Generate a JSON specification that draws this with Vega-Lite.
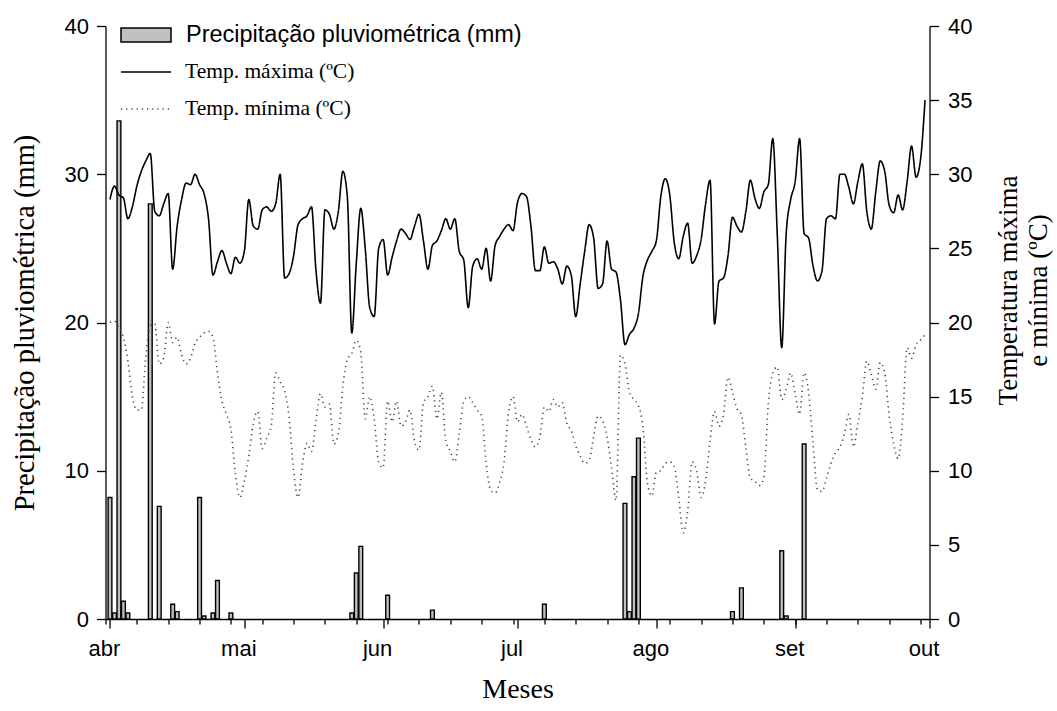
{
  "$schema": "https://vega.github.io/schema/vega-lite/v6.json",
  "width": 824,
  "height": 593,
  "autosize": {"type": "none"},
  "padding": {"left": 105.5, "top": 26, "right": 127.5, "bottom": 92},
  "background": "white",
  "config": {
    "view": {"stroke": null},
    "axis": {"grid": false, "domainColor": "black", "tickColor": "black", "labelColor": "black", "titleColor": "black", "domainWidth": 1.3, "tickWidth": 1.3},
    "legend": {"labelColor": "black"}
  },
  "datasets": {
    "chuva": [
      {"d": 0, "prec": 8.2}, {"d": 1, "prec": 0.4}, {"d": 2, "prec": 33.6}, {"d": 3, "prec": 1.2}, {"d": 4, "prec": 0.4},
      {"d": 9, "prec": 28.0}, {"d": 11, "prec": 7.6}, {"d": 14, "prec": 1.0}, {"d": 15, "prec": 0.5}, {"d": 20, "prec": 8.2},
      {"d": 21, "prec": 0.2}, {"d": 23, "prec": 0.4}, {"d": 24, "prec": 2.6}, {"d": 27, "prec": 0.4}, {"d": 54, "prec": 0.4},
      {"d": 55, "prec": 3.1}, {"d": 56, "prec": 4.9}, {"d": 62, "prec": 1.6}, {"d": 72, "prec": 0.6}, {"d": 97, "prec": 1.0},
      {"d": 115, "prec": 7.8}, {"d": 116, "prec": 0.5}, {"d": 117, "prec": 9.6}, {"d": 118, "prec": 12.2}, {"d": 139, "prec": 0.5},
      {"d": 141, "prec": 2.1}, {"d": 150, "prec": 4.6}, {"d": 151, "prec": 0.2}, {"d": 155, "prec": 11.8}
    ],
    "clima": [
      {"d":0,"tmax":28.3,"tmin":20.0},{"d":1,"tmax":29.2,"tmin":20.1},{"d":2,"tmax":28.6,"tmin":19.6},{"d":3,"tmax":28.4,"tmin":19.0},
      {"d":4,"tmax":27.0,"tmin":17.4},{"d":5,"tmax":27.8,"tmin":15.0},{"d":6,"tmax":29.2,"tmin":14.1},{"d":7,"tmax":30.2,"tmin":14.1},
      {"d":8,"tmax":30.9,"tmin":17.7},{"d":9,"tmax":31.4,"tmin":19.8},{"d":10,"tmax":27.5,"tmin":19.9},{"d":11,"tmax":27.2,"tmin":17.2},
      {"d":12,"tmax":28.0,"tmin":17.6},{"d":13,"tmax":28.7,"tmin":20.0},{"d":14,"tmax":23.6,"tmin":18.65},{"d":15,"tmax":26.5,"tmin":19.0},
      {"d":16,"tmax":28.3,"tmin":17.8},{"d":17,"tmax":29.4,"tmin":17.2},{"d":18,"tmax":29.3,"tmin":17.6},{"d":19,"tmax":30.0,"tmin":18.6},
      {"d":20,"tmax":29.3,"tmin":19.0},{"d":21,"tmax":28.7,"tmin":19.3},{"d":22,"tmax":27.0,"tmin":19.4},{"d":23,"tmax":23.2,"tmin":19.0},
      {"d":24,"tmax":24.1,"tmin":16.6},{"d":25,"tmax":24.85,"tmin":14.7},{"d":26,"tmax":24.0,"tmin":13.8},{"d":27,"tmax":23.3,"tmin":12.8},
      {"d":28,"tmax":24.4,"tmin":9.8},{"d":29,"tmax":24.0,"tmin":8.2},{"d":30,"tmax":24.8,"tmin":9.3},{"d":31,"tmax":28.3,"tmin":11.0},
      {"d":32,"tmax":26.5,"tmin":13.2},{"d":33,"tmax":26.3,"tmin":14.0},{"d":34,"tmax":27.6,"tmin":11.5},{"d":35,"tmax":27.8,"tmin":12.2},
      {"d":36,"tmax":27.5,"tmin":13.0},{"d":37,"tmax":28.0,"tmin":16.6},{"d":38,"tmax":30.0,"tmin":16.0},{"d":39,"tmax":23.0,"tmin":15.4},
      {"d":40,"tmax":23.3,"tmin":13.6},{"d":41,"tmax":24.5,"tmin":10.0},{"d":42,"tmax":26.6,"tmin":8.2},{"d":43,"tmax":27.0,"tmin":10.5},
      {"d":44,"tmax":27.2,"tmin":11.85},{"d":45,"tmax":27.8,"tmin":11.3},{"d":46,"tmax":23.5,"tmin":13.4},{"d":47,"tmax":21.3,"tmin":15.2},
      {"d":48,"tmax":27.6,"tmin":14.3},{"d":49,"tmax":27.3,"tmin":14.5},{"d":50,"tmax":26.3,"tmin":11.8},{"d":51,"tmax":27.5,"tmin":12.5},
      {"d":52,"tmax":30.2,"tmin":15.7},{"d":53,"tmax":28.5,"tmin":17.5},{"d":54,"tmax":19.3,"tmin":17.9},{"d":55,"tmax":24.0,"tmin":18.8},
      {"d":56,"tmax":27.7,"tmin":18.0},{"d":57,"tmax":25.0,"tmin":13.5},{"d":58,"tmax":21.0,"tmin":15.0},{"d":59,"tmax":20.4,"tmin":13.5},
      {"d":60,"tmax":25.0,"tmin":10.6},{"d":61,"tmax":25.6,"tmin":10.2},{"d":62,"tmax":23.2,"tmin":14.7},{"d":63,"tmax":24.4,"tmin":13.3},
      {"d":64,"tmax":25.5,"tmin":14.7},{"d":65,"tmax":26.3,"tmin":13.0},{"d":66,"tmax":26.0,"tmin":13.3},{"d":67,"tmax":25.6,"tmin":14.1},
      {"d":68,"tmax":26.5,"tmin":12.0},{"d":69,"tmax":27.3,"tmin":11.4},{"d":70,"tmax":25.5,"tmin":14.6},{"d":71,"tmax":23.6,"tmin":15.0},
      {"d":72,"tmax":25.2,"tmin":15.7},{"d":73,"tmax":25.5,"tmin":13.5},{"d":74,"tmax":26.2,"tmin":15.3},{"d":75,"tmax":27.0,"tmin":12.0},
      {"d":76,"tmax":26.3,"tmin":11.3},{"d":77,"tmax":27.0,"tmin":10.6},{"d":78,"tmax":24.8,"tmin":12.5},{"d":79,"tmax":24.2,"tmin":14.7},
      {"d":80,"tmax":21.0,"tmin":15.0},{"d":81,"tmax":23.8,"tmin":14.6},{"d":82,"tmax":24.3,"tmin":14.1},{"d":83,"tmax":23.6,"tmin":13.7},
      {"d":84,"tmax":25.0,"tmin":10.5},{"d":85,"tmax":22.8,"tmin":8.7},{"d":86,"tmax":25.2,"tmin":8.5},{"d":87,"tmax":25.8,"tmin":9.2},
      {"d":88,"tmax":26.3,"tmin":10.6},{"d":89,"tmax":26.6,"tmin":13.9},{"d":90,"tmax":26.2,"tmin":15.0},{"d":91,"tmax":28.1,"tmin":13.3},
      {"d":92,"tmax":28.7,"tmin":13.8},{"d":93,"tmax":28.5,"tmin":13.0},{"d":94,"tmax":26.5,"tmin":12.1},{"d":95,"tmax":23.5,"tmin":11.6},
      {"d":96,"tmax":23.5,"tmin":12.3},{"d":97,"tmax":25.1,"tmin":14.3},{"d":98,"tmax":24.0,"tmin":14.0},{"d":99,"tmax":24.1,"tmin":14.8},
      {"d":100,"tmax":23.6,"tmin":14.3},{"d":101,"tmax":22.6,"tmin":14.6},{"d":102,"tmax":23.8,"tmin":13.2},{"d":103,"tmax":23.2,"tmin":12.7},
      {"d":104,"tmax":20.4,"tmin":11.7},{"d":105,"tmax":22.6,"tmin":11.0},{"d":106,"tmax":24.8,"tmin":10.5},{"d":107,"tmax":26.6,"tmin":10.7},
      {"d":108,"tmax":25.7,"tmin":12.3},{"d":109,"tmax":22.3,"tmin":13.7},{"d":110,"tmax":22.6,"tmin":13.4},{"d":111,"tmax":25.5,"tmin":12.3},
      {"d":112,"tmax":23.6,"tmin":10.2},{"d":113,"tmax":23.4,"tmin":8.0},{"d":114,"tmax":21.5,"tmin":17.8},{"d":115,"tmax":18.5,"tmin":17.2},
      {"d":116,"tmax":19.2,"tmin":15.3},{"d":117,"tmax":19.6,"tmin":14.8},{"d":118,"tmax":20.6,"tmin":14.4},{"d":119,"tmax":23.1,"tmin":13.0},
      {"d":120,"tmax":24.2,"tmin":9.2},{"d":121,"tmax":24.8,"tmin":8.3},{"d":122,"tmax":25.5,"tmin":9.9},{"d":123,"tmax":28.5,"tmin":10.0},
      {"d":124,"tmax":29.7,"tmin":10.5},{"d":125,"tmax":28.6,"tmin":10.6},{"d":126,"tmax":25.4,"tmin":10.3},{"d":127,"tmax":24.3,"tmin":8.2},
      {"d":128,"tmax":25.8,"tmin":5.8},{"d":129,"tmax":26.7,"tmin":7.3},{"d":130,"tmax":24.0,"tmin":10.6},{"d":131,"tmax":24.5,"tmin":10.0},
      {"d":132,"tmax":25.6,"tmin":8.2},{"d":133,"tmax":28.0,"tmin":9.3},{"d":134,"tmax":29.6,"tmin":12.0},{"d":135,"tmax":19.9,"tmin":14.0},
      {"d":136,"tmax":22.8,"tmin":13.0},{"d":137,"tmax":23.0,"tmin":13.8},{"d":138,"tmax":24.5,"tmin":16.3},{"d":139,"tmax":27.1,"tmin":15.3},
      {"d":140,"tmax":26.5,"tmin":14.2},{"d":141,"tmax":26.1,"tmin":13.8},{"d":142,"tmax":27.5,"tmin":11.5},{"d":143,"tmax":29.6,"tmin":9.5},
      {"d":144,"tmax":28.4,"tmin":9.3},{"d":145,"tmax":27.7,"tmin":9.0},{"d":146,"tmax":28.8,"tmin":9.5},{"d":147,"tmax":29.3,"tmin":14.5},
      {"d":148,"tmax":32.4,"tmin":16.6},{"d":149,"tmax":26.0,"tmin":17.0},{"d":150,"tmax":18.3,"tmin":14.8},{"d":151,"tmax":26.0,"tmin":15.5},
      {"d":152,"tmax":28.3,"tmin":16.6},{"d":153,"tmax":29.5,"tmin":15.2},{"d":154,"tmax":32.4,"tmin":13.8},{"d":155,"tmax":26.0,"tmin":16.6},
      {"d":156,"tmax":25.7,"tmin":15.3},{"d":157,"tmax":23.8,"tmin":11.8},{"d":158,"tmax":22.8,"tmin":8.7},{"d":159,"tmax":23.5,"tmin":8.6},
      {"d":160,"tmax":27.0,"tmin":9.5},{"d":161,"tmax":27.2,"tmin":10.5},{"d":162,"tmax":27.0,"tmin":11.2},{"d":163,"tmax":30.0,"tmin":11.6},
      {"d":164,"tmax":30.0,"tmin":12.5},{"d":165,"tmax":29.1,"tmin":13.8},{"d":166,"tmax":28.0,"tmin":11.6},{"d":167,"tmax":29.5,"tmin":13.2},
      {"d":168,"tmax":30.7,"tmin":15.0},{"d":169,"tmax":27.5,"tmin":17.4},{"d":170,"tmax":26.3,"tmin":16.5},{"d":171,"tmax":28.8,"tmin":15.5},
      {"d":172,"tmax":30.9,"tmin":17.3},{"d":173,"tmax":30.2,"tmin":16.6},{"d":174,"tmax":27.9,"tmin":13.7},{"d":175,"tmax":27.4,"tmin":11.8},
      {"d":176,"tmax":28.6,"tmin":10.8},{"d":177,"tmax":27.6,"tmin":13.5},{"d":178,"tmax":29.5,"tmin":18.3},{"d":179,"tmax":31.9,"tmin":17.6},
      {"d":180,"tmax":29.8,"tmin":18.5},{"d":181,"tmax":31.0,"tmin":18.8},{"d":182,"tmax":35.0,"tmin":19.2}
    ]
  },
  "layer": [
    {
      "data": {"name": "chuva"},
      "mark": {"type": "bar", "width": 3.8, "stroke": "black", "strokeWidth": 1.4},
      "encoding": {
        "x": {
          "field": "d", "type": "quantitative",
          "scale": {"domain": [-1, 183], "nice": false, "zero": false, "padding": 0},
          "axis": {
            "orient": "bottom", "values": [0, 30, 61, 91, 122, 153, 183],
            "labelExpr": "['abr','mai','jun','jul','ago','set','out'][indexof([0,30,61,91,122,153,183], datum.value)]",
            "tickSize": 9, "labelFont": "Liberation Sans", "labelFontSize": 22, "labelPadding": 10,
            "labelOffset": -6, "labelFlush": false, "labelOverlap": false,
            "title": "Meses", "titleFont": "Liberation Serif", "titleFontSize": 28, "titleFontWeight": "normal", "titlePadding": 16
          }
        },
        "y": {
          "field": "prec", "type": "quantitative",
          "scale": {"domain": [0, 40], "nice": false},
          "axis": {
            "orient": "left", "values": [0, 10, 20, 30, 40], "tickSize": 9,
            "labelFont": "Liberation Sans", "labelFontSize": 22, "labelPadding": 8,
            "title": "Precipitação pluviométrica (mm)", "titleFont": "Liberation Serif", "titleFontSize": 28.5,
            "titleFontWeight": "normal", "titlePadding": 25
          }
        },
        "fill": {
          "datum": "Precipitação pluviométrica (mm)", "type": "nominal",
          "scale": {"range": ["#c0c0c0"]},
          "legend": {
            "title": null, "orient": "none", "legendX": 14.5, "legendY": -17, "padding": 0,
            "symbolType": "M-1,-0.28L1,-0.28L1,0.28L-1,0.28Z", "symbolSize": 2500,
            "symbolStrokeColor": "black", "symbolStrokeWidth": 1.5, "symbolOpacity": 1,
            "labelFont": "Liberation Sans", "labelFontSize": 23.5, "labelOffset": 14, "labelLimit": 0
          }
        }
      }
    },
    {
      "data": {"name": "clima"},
      "transform": [{"fold": ["tmax", "tmin"], "as": ["serie", "temp"]}],
      "mark": {"type": "line", "interpolate": "monotone", "strokeWidth": 1.6},
      "encoding": {
        "x": {
          "field": "d", "type": "quantitative",
          "scale": {"domain": [-1, 183], "nice": false, "zero": false, "padding": 0},
          "axis": {
            "orient": "bottom", "values": [-1, 6, 13, 20, 27, 34, 41, 48, 55, 62, 69, 76, 83, 90, 97, 104, 111, 118, 125, 132, 139, 146, 153, 160, 167, 174, 181],
            "tickSize": 5, "labels": false, "domain": false, "title": null
          }
        },
        "y": {
          "field": "temp", "type": "quantitative",
          "scale": {"domain": [0, 40], "nice": false},
          "axis": {
            "orient": "right", "values": [0, 5, 10, 15, 20, 25, 30, 35, 40], "tickSize": 9,
            "labelFont": "Liberation Sans", "labelFontSize": 22, "labelPadding": 9,
            "title": ["Temperatura máxima", "e mínima (ºC)"], "titleFont": "Liberation Serif", "titleFontSize": 27,
            "titleFontWeight": "normal", "titleAngle": 270, "titleBaseline": "top", "titleLineHeight": 30,
            "titlePadding": -6, "titleY": 264
          }
        },
        "strokeDash": {
          "field": "serie", "type": "nominal",
          "scale": {"domain": ["tmax", "tmin"], "range": [[1, 0], [1.2, 4]]},
          "legend": {
            "title": null, "orient": "none", "legendX": 14.5, "legendY": 20, "padding": 0, "rowPadding": -3,
            "symbolType": "stroke", "symbolSize": 2500, "symbolStrokeWidth": 1.5,
            "labelFont": "Liberation Serif", "labelFontSize": 21.5, "labelOffset": 13, "labelLimit": 0,
            "labelExpr": "datum.value == 'tmax' ? 'Temp. máxima (ºC)' : 'Temp. mínima (ºC)'"
          }
        },
        "color": {
          "field": "serie", "type": "nominal",
          "scale": {"domain": ["tmax", "tmin"], "range": ["#000000", "#444444"]},
          "legend": {
            "title": null, "orient": "none", "legendX": 14.5, "legendY": 20, "padding": 0, "rowPadding": -3,
            "symbolType": "stroke", "symbolSize": 2500, "symbolStrokeWidth": 1.5,
            "labelFont": "Liberation Serif", "labelFontSize": 21.5, "labelOffset": 13, "labelLimit": 0,
            "labelExpr": "datum.value == 'tmax' ? 'Temp. máxima (ºC)' : 'Temp. mínima (ºC)'"
          }
        }
      }
    }
  ],
  "resolve": {"scale": {"y": "independent"}, "axis": {"x": "independent", "y": "independent"}}
}
